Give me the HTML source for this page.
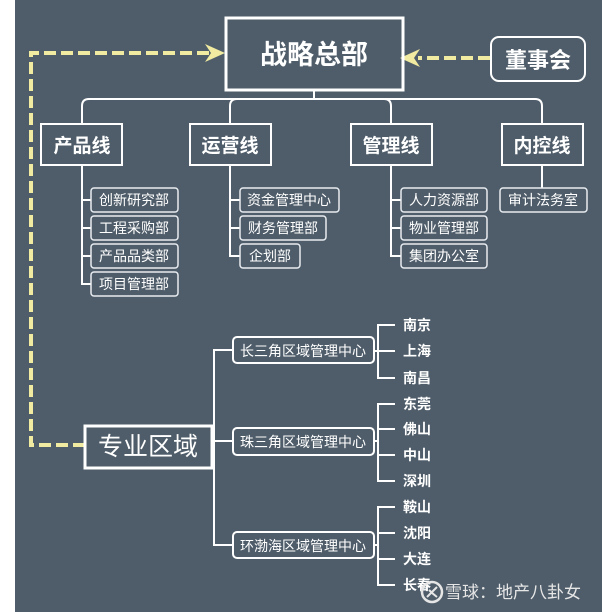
<!DOCTYPE html>
<html><head><meta charset="utf-8"><style>
html,body{margin:0;padding:0;background:#fff;}
svg{display:block;font-family:"Liberation Sans","Noto Sans CJK SC",sans-serif;}
</style></head><body>
<svg width="602" height="612" viewBox="0 0 602 612" xmlns="http://www.w3.org/2000/svg">
<rect x="0" y="0" width="602" height="612" fill="#fff"/>
<rect x="15" y="0" width="587" height="612" fill="#4f5d6a"/>
<g fill="none" stroke="#f0eba0" stroke-width="4" stroke-dasharray="12,5">
<path d="M85 445 H31 V53 H215"/>
<path d="M490 58 H418"/>
</g>
<polygon points="225,53 205,44 211,53 205,62" fill="#f0eba0"/>
<polygon points="400,58 420,49 414,58 420,67" fill="#f0eba0"/>
<g fill="none" stroke="#fff" stroke-width="2">
<rect x="226" y="18" width="177" height="72" stroke-width="3"/>
<path d="M314 90 V99"/>
<path d="M82 124 V106 Q82 99 89 99 H535 Q542 99 542 106 V124"/>
<path d="M230 124 V106 Q230 99 237 99"/>
<path d="M391 124 V106 Q391 99 384 99"/>
<rect x="41" y="124" width="81" height="41"/>
<rect x="190" y="124" width="81" height="41"/>
<rect x="351" y="124" width="81" height="41"/>
<rect x="502" y="124" width="81" height="41"/>
<rect x="491" y="37" width="94" height="44" rx="8"/>
<path d="M82 165 V284 H91 M82 200 H91 M82 228 H91 M82 256 H91"/>
<path d="M230 165 V256 H240 M230 200 H240 M230 228 H240"/>
<path d="M391 165 V256 H401 M391 200 H401 M391 228 H401"/>
<path d="M542 165 V188"/>
</g>
<g fill="none" stroke="#e8ecf0" stroke-width="1.5">
<rect x="91" y="188" width="87" height="24" rx="3"/>
<rect x="91" y="216" width="87" height="24" rx="3"/>
<rect x="91" y="244" width="87" height="24" rx="3"/>
<rect x="91" y="272" width="87" height="24" rx="3"/>
<rect x="240" y="188" width="99" height="24" rx="3"/>
<rect x="240" y="216" width="86" height="24" rx="3"/>
<rect x="240" y="244" width="60" height="24" rx="3"/>
<rect x="401" y="188" width="86" height="24" rx="3"/>
<rect x="401" y="216" width="86" height="24" rx="3"/>
<rect x="401" y="244" width="86" height="24" rx="3"/>
<rect x="500" y="188" width="87" height="24" rx="3"/>
</g>
<g fill="#fff" font-weight="bold" text-anchor="middle">
<text x="314" y="64" font-size="27">战略总部</text>
<text x="538" y="68" font-size="22">董事会</text>
<text x="82" y="152" font-size="19">产品线</text>
<text x="230" y="152" font-size="19">运营线</text>
<text x="391" y="152" font-size="19">管理线</text>
<text x="542" y="152" font-size="19">内控线</text>
</g>
<g fill="#fff" font-size="14" text-anchor="middle">
<text x="134" y="205">创新研究部</text>
<text x="134" y="233">工程采购部</text>
<text x="134" y="261">产品品类部</text>
<text x="134" y="289">项目管理部</text>
<text x="289" y="205">资金管理中心</text>
<text x="283" y="233">财务管理部</text>
<text x="270" y="261">企划部</text>
<text x="444" y="205">人力资源部</text>
<text x="444" y="233">物业管理部</text>
<text x="444" y="261">集团办公室</text>
<text x="543" y="205">审计法务室</text>
</g>
<!-- bottom -->
<g fill="none" stroke="#fff" stroke-width="2">
<rect x="85" y="426" width="127" height="42" stroke-width="3"/>
<path d="M212 445 H214 M233 350 H214 V545 H233 M214 441 H233"/>
<rect x="233" y="337" width="141" height="26" rx="4"/>
<rect x="233" y="428" width="141" height="27" rx="4"/>
<rect x="233" y="532" width="141" height="26" rx="4"/>
<path d="M395 325 H378 V378 H395 M374 351 H395"/>
<path d="M395 404 H378 V481 H395 M374 441 H378 M378 429 H395 M378 455 H395"/>
<path d="M395 507 H378 V585 H395 M374 545 H378 M378 533 H395 M378 559 H395"/>
</g>
<text x="148" y="455" font-size="25" fill="#fff" text-anchor="middle">专业区域</text>
<g fill="#fff" font-size="14" text-anchor="middle">
<text x="303" y="356">长三角区域管理中心</text>
<text x="303" y="447">珠三角区域管理中心</text>
<text x="303" y="551">环渤海区域管理中心</text>
</g>
<g fill="#fff" font-size="14" font-weight="bold">
<text x="403" y="330">南京</text>
<text x="403" y="356">上海</text>
<text x="403" y="383">南昌</text>
<text x="403" y="409">东莞</text>
<text x="403" y="434">佛山</text>
<text x="403" y="460">中山</text>
<text x="403" y="486">深圳</text>
<text x="403" y="512">鞍山</text>
<text x="403" y="538">沈阳</text>
<text x="403" y="564">大连</text>
<text x="403" y="590">长春</text>
</g>
<circle cx="432" cy="592" r="10" fill="none" stroke="#e6e6e6" stroke-width="2.5"/>
<path d="M427 597 L437 587 M429 590 Q433 594 437 597" stroke="#e6e6e6" stroke-width="2" fill="none"/>
<text x="445" y="598" font-size="17" fill="#e6e6e6">雪球：地产八卦女</text>
</svg>
</body></html>
